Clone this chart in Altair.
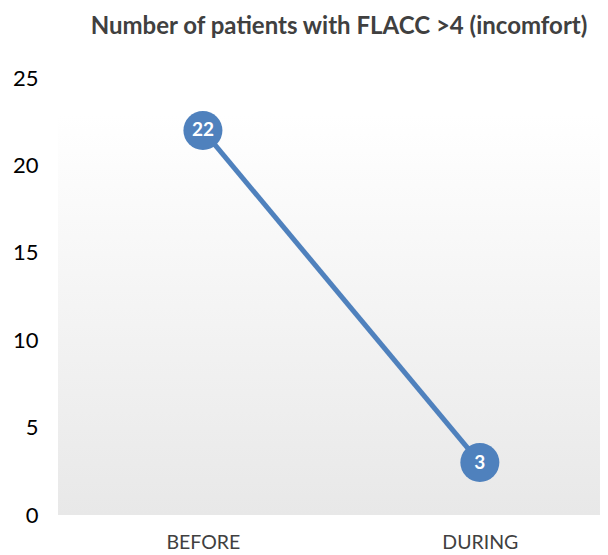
import altair as alt
import pandas as pd

categories = ["BEFORE", "DURING"]
values = [22, 3]
y_ticks = [0, 5, 10, 15, 20, 25]
title_text = "Number of patients with FLACC >4 (incomfort)"

df = pd.DataFrame({"phase": categories, "patients": values})

FONT = "Lato"
BLUE = "#4f81bd"
W, H = 550, 437

xscale = alt.Scale(type="point", padding=0.493, align=0.56)
yscale = alt.Scale(domain=[0, 25])

bg = alt.Chart(df).mark_rect(
    color=alt.Gradient(
        gradient="linear", x1=0, y1=0, x2=0, y2=1,
        stops=[alt.GradientStop(color="#ffffff", offset=0),
               alt.GradientStop(color="#e8e8e8", offset=1)],
    )
).encode(x=alt.value(8), x2=alt.value(W + 8), y=alt.value(37), y2=alt.value(H))

base = alt.Chart(df).encode(
    x=alt.X("phase:N", sort=categories, scale=xscale,
            axis=alt.Axis(title=None, domain=False, ticks=False, labelAngle=0,
                          labelFont=FONT, labelFontSize=19.5, labelColor="#404040",
                          labelPadding=18)),
    y=alt.Y("patients:Q", scale=yscale,
            axis=alt.Axis(title=None, domain=False, ticks=False, grid=False,
                          values=y_ticks, labelFont=FONT, labelFontSize=22,
                          labelColor="#000000", labelPadding=12)),
)

line = base.mark_line(color=BLUE, strokeWidth=5)
pts = base.mark_point(filled=True, shape="circle", size=1520, color=BLUE, opacity=1)
txt = base.mark_text(color="white", font=FONT, fontWeight="bold", fontSize=19,
                     baseline="middle").encode(text="patients:Q")

chart = alt.layer(bg, line, pts, txt).properties(
    width=W, height=H,
    title=alt.TitleParams(title_text, font=FONT, fontSize=24, fontWeight="bold",
                          color="#404040", anchor="middle", dx=14, offset=28),
    autosize=alt.AutoSizeParams(type="none"),
    padding={"left": 42, "top": 70, "right": 0, "bottom": 40},
).configure_view(stroke=None)

chart.save("out.html", embed_options={"renderer": "svg", "actions": False})
